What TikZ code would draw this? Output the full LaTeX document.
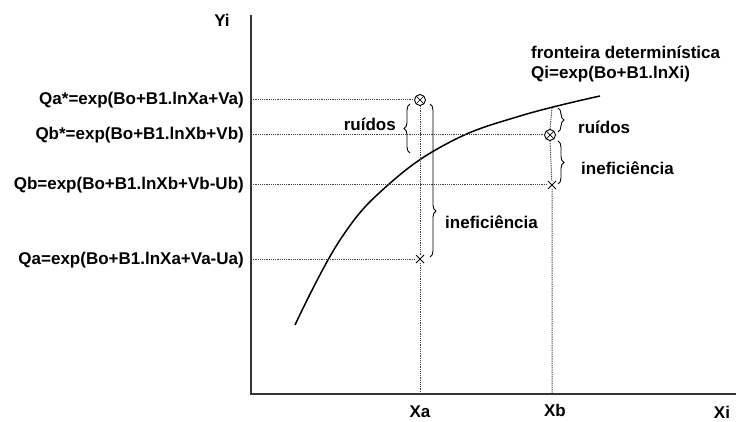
\documentclass[tikz,border=0pt]{standalone}
\usepackage{fontspec}
\setmainfont{Liberation Sans}
\usetikzlibrary{decorations.pathreplacing, shapes.misc, positioning}

\begin{document}
\begin{tikzpicture}[
    x=1pt, y=-1pt,
    eixo/.style={line width=1.6pt, black!80},
    guia/.style={dash pattern=on 1.2pt off 1pt, line width=1pt, black!75},
    curva/.style={line width=1.5pt, black},
    chave/.style={decorate, decoration={brace, amplitude=6pt}, line width=0.9pt},
    rotulo/.style={font=\fontsize{17}{19}\selectfont\bfseries, inner sep=1pt},
    ruido/.style={
        circle,
        draw,
        fill=white,
        line width=0.9pt,
        minimum size=11pt,
        inner sep=0pt,
        path picture={\draw[line width=0.7pt]
            (path picture bounding box.north west) -- (path picture bounding box.south east)
            (path picture bounding box.north east) -- (path picture bounding box.south west);}
    },
    obs/.style={cross out, draw, line width=1pt, minimum size=7pt, inner sep=0pt}
]
\useasboundingbox (0,0) rectangle (736,422);

% eixos
\coordinate (o) at (251,394);
\coordinate (ytop) at (251,15);
\coordinate (xfim) at (736,394);
\draw[eixo] (ytop) -- (o) -- (xfim);

\node[rotulo] (yi) at (222,20) {Yi};
\node[rotulo] (xa) at (420,412) {Xa};
\node[rotulo] (xb) at (555,410) {Xb};
\node[rotulo] (xi) at (722,412) {Xi};

% fronteira
\coordinate (fb) at (552,108);
\draw[curva] plot[smooth, tension=0.7] coordinates {(295,325) (340,240) (388,185) (450,142) (520,116) (600,96)};
\node[rotulo, anchor=west] (fr) at (530,52) {fronteira determinística};
\node[rotulo, anchor=west] (fq) at (530,74) {Qi=exp(Bo+B1.lnXi)};

% pontos
\node[ruido] (pa) at (420,100) {};
\node[ruido] (pb) at (550,135) {};
\node[obs] (qb) at (552,185) {};
\node[obs] (qa) at (420,259) {};

% linhas guia
\draw[guia] (pa -| o) -- (pa.west);
\draw[guia] (pb -| o) -- (pb.west);
\draw[guia] (qb -| o) -- (qb);
\draw[guia] (qa -| o) -- (qa);
\draw[guia] (pa.south) -- (qa) -- (qa |- o);
\draw[guia] (fb) -- (pb.north);
\draw[guia] (pb.south) -- (qb) -- (qb |- o);

% rotulos do eixo Y
\node[rotulo, anchor=east] (la) at (245,100) {Qa*=exp(Bo+B1.lnXa+Va)};
\node[rotulo, anchor=east] (lb) at (245,135) {Qb*=exp(Bo+B1.lnXb+Vb)};
\node[rotulo, anchor=east] (lqb) at (245,185) {Qb=exp(Bo+B1.lnXb+Vb-Ub)};
\node[rotulo, anchor=east] (lqa) at (245,260) {Qa=exp(Bo+B1.lnXa+Va-Ua)};

% chaves
\draw[chave] (410,153) -- (410,104);
\node[rotulo, anchor=east] (ra) at (397,124) {ruídos};
\draw[chave, decoration={aspect=0.7}] (430,104) -- (430,257);
\node[rotulo, anchor=west] (ia) at (444,222) {ineficiência};
\draw[chave] (558,108) -- (558,132);
\node[rotulo, anchor=west] (rb) at (577,127) {ruídos};
\draw[chave] (558,141) -- (558,184);
\node[rotulo, anchor=west] (ib) at (580,168) {ineficiência};

\end{tikzpicture}
\end{document}
